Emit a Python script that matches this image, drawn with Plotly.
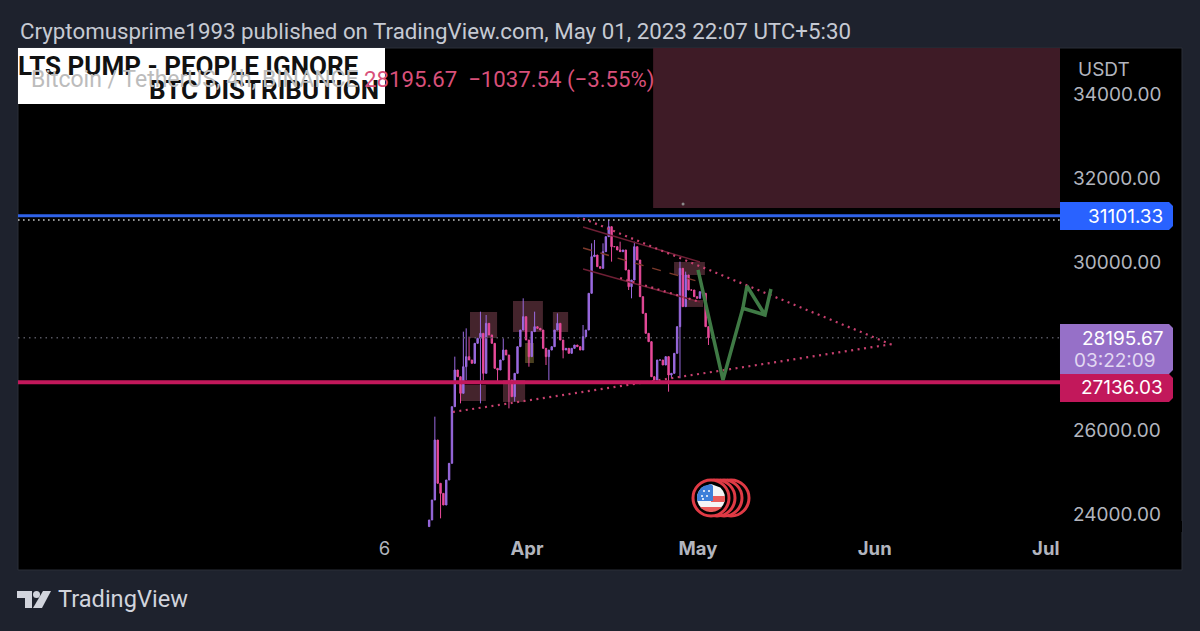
import math
import pandas as pd
import plotly.graph_objects as go

W, H = 1200, 631
BG = "#1e222d"
PANEL = "#000000"

# ---------- data ----------
bar_start = "2023-03-14 20:00"
closes = [23857, 24333, 25761, 24730, 24491, 24214, 24809, 25206, 26555, 27428,
          27269, 26873, 27507, 27746, 27666, 27587, 28063, 28182, 28301, 27349,
          28539, 28262, 28063, 27468, 27428, 27666, 27904, 27785, 27190, 26793,
          27349, 27984, 28380, 28698, 28142, 27746, 28341, 28460, 28420, 28380,
          27944, 27746, 27904, 27984, 28380, 28539, 28142, 27904, 27944, 27825,
          27944, 28023, 27984, 27904, 28222, 28380, 29254, 30127, 30166, 29889,
          29849, 30246, 30603, 30841, 30365, 30365, 30286, 30246, 30286, 29809,
          29412, 29571, 30365, 30047, 29174, 28777, 28301, 28103, 27269, 27190,
          27666, 27666, 27547, 27746, 27309, 27349, 27825, 28460, 29849, 28936,
          29690, 29333, 29333, 29174, 29135, 29293, 29254, 28460, 28195.67]
first_open = 23700
high_wicks = {3: 26317, 10: 27746, 13: 28341, 14: 28420, 15: 28222, 19: 28817, 21: 28738,
              27: 28182, 34: 29135, 38: 28817, 46: 28777, 55: 28500, 58: 30444, 59: 30524,
              62: 30444, 64: 31000, 68: 30484, 73: 30484, 79: 27984, 89: 30008, 91: 29770}
low_wicks = {5: 23896, 12: 26634, 14: 27190, 19: 26634, 20: 27190, 25: 27150, 29: 26515,
             31: 26674, 36: 27507, 42: 27547, 43: 27190, 48: 27706, 65: 30008, 71: 29333,
             72: 29135, 85: 26912, 86: 27230, 89: 27230, 99: 28024}

y_ticks = [24000, 26000, 30000, 32000, 34000]
x_tick_dates = ["2023-03-07", "2023-04-01", "2023-05-01", "2023-06-01", "2023-07-01"]
x_tick_text = ["6", "<b>Apr</b>", "<b>May</b>", "<b>Jun</b>", "<b>Jul</b>"]
x_range = ["2023-01-01 17:00", "2023-07-03 12:00"]
y_range = [23571, 35095]

level_blue = 31101.33
level_white = 31000
level_last = 28195.67
level_red = 27136.03

upper_x = ["2023-04-09 18:30", "2023-06-03 17:00"]
upper_y = [31095, 28048]
lower_x = ["2023-03-19 00:00", "2023-06-04 05:00"]
lower_y = [26428, 28048]
chan_x = ["2023-04-10 20:00", "2023-05-01 08:00"]
chan1_y = [30833, 30000]
chan2_y = [30333, 29524]
chan3_y = [29833, 29048]
chan3_dot_x = ["2023-04-17 08:00", "2023-05-01 08:00"]
chan3_dot_y = [29619, 29048]
green_x = ["2023-05-01 00:00", "2023-05-05 09:00", "2023-05-08 21:00", "2023-05-09 14:00",
           "2023-05-12 18:00", "2023-05-08 17:00", "2023-05-12 18:00", "2023-05-13 19:00"]
green_y = [29810, 27190, 28905, 29429, 28738, 28905, 28738, 29357]

boxes = [
    ("2023-03-22 00:00", "2023-03-26 18:00", 28190, 28810, "#44242c"),
    ("2023-03-29 13:00", "2023-04-03 19:00", 28333, 29071, "#44242c"),
    ("2023-04-05 13:00", "2023-04-08 05:00", 28333, 28810, "#44242c"),
    ("2023-03-20 06:00", "2023-03-24 19:00", 26690, 27071, "#44242c"),
    ("2023-03-27 19:00", "2023-03-31 16:00", 26667, 27190, "#44242c"),
    ("2023-03-31 16:00", "2023-04-02 05:00", 27595, 28071, "#4a4020"),
    ("2023-04-26 19:00", "2023-05-02 05:00", 29690, 30000, "#44242c"),
    ("2023-04-28 17:00", "2023-05-01 21:00", 28929, 29095, "#44242c"),
]
zone = ("2023-04-23 03:00", x_range[1], 31286, y_range[1])
dot_x, dot_y = ["2023-04-28 09:00"], [31381]

title_text = "Cryptomusprime1993 published on TradingView.com, May 01, 2023 22:07 UTC+5:30"
legend_text = "Bitcoin / TetherUS, 4h, BINANCE"
legend_vals = "28195.67  −1037.54 (−3.55%)"

# ---------- derived ----------
times = pd.date_range(bar_start, periods=len(closes), freq="12h")
opens = [first_open] + closes[:-1]
highs = [high_wicks.get(i + 1, max(o, c)) for i, (o, c) in enumerate(zip(opens, closes))]
lows = [low_wicks.get(i + 1, min(o, c)) for i, (o, c) in enumerate(zip(opens, closes))]

# ---------- page-pixel helpers (layout furniture only) ----------
def px(x):
    return x / W
def py(y):
    return 1 - y / H
def prect(x0, y0, x1, y1, fill, layer="above", line=None):
    return dict(type="rect", xref="paper", yref="paper", x0=px(x0), x1=px(x1), y0=py(y0), y1=py(y1),
                fillcolor=fill, layer=layer, line=dict(color=line or fill, width=1 if line else 0))
def ppath(points, fill, close=True):
    d = "M " + " L ".join(f"{px(a):.5f},{py(b):.5f}" for a, b in points) + (" Z" if close else "")
    return dict(type="path", xref="paper", yref="paper", path=d, fillcolor=fill, layer="above", line=dict(width=0))
def tag(y0, y1, fill):
    r = 4
    pts = [(1060, y0), (1173 - r, y0), (1173, y0 + r), (1173, y1 - r), (1173 - r, y1), (1060, y1)]
    return ppath(pts, fill)
def pcircle(cx, cy, r, fill, line=None, lw=0):
    return dict(type="circle", xref="paper", yref="paper", x0=px(cx - r), x1=px(cx + r), y0=py(cy + r), y1=py(cy - r),
                fillcolor=fill, layer="above", line=dict(color=line or fill, width=lw))
def chord(cx, cy, r, ya, yb, xmin=None, xmax=None):
    pts = []
    n = 8
    for i in range(n + 1):
        yy = ya + (yb - ya) * i / n
        hw = math.sqrt(max(r * r - (yy - cy) ** 2, 0))
        xx = cx + hw
        if xmax is not None:
            xx = min(xx, xmax)
        pts.append((xx, yy))
    for i in range(n, -1, -1):
        yy = ya + (yb - ya) * i / n
        hw = math.sqrt(max(r * r - (yy - cy) ** 2, 0))
        xx = cx - hw
        if xmin is not None:
            xx = max(xx, xmin)
        pts.append((xx, yy))
    return pts

PINK_DOT = dict(color="#c8406f", width=2.2, dash="2px,4.5px")

fig = go.Figure()
fig.add_trace(go.Scatter(x=x_range, y=[level_last, level_last], mode="lines",
                         line=dict(color="#55555f", width=1.5, dash="1.5px,4px"), hoverinfo="skip"))
fig.add_trace(go.Scatter(x=x_range, y=[level_white, level_white], mode="lines",
                         line=dict(color="#c4c4c4", width=1.6, dash="1.6px,3.4px"), hoverinfo="skip"))
for ys, col, dash in [(chan1_y, "#6e1f35", "solid"), (chan2_y, "#7d3a2c", "dash"), (chan3_y, "#6e1f35", "solid")]:
    fig.add_trace(go.Scatter(x=chan_x, y=ys, mode="lines", line=dict(color=col, width=1.4, dash=dash), hoverinfo="skip"))
fig.add_trace(go.Candlestick(x=times, open=opens, high=highs, low=lows, close=closes,
                             increasing=dict(line=dict(color="#9a6ae0", width=1), fillcolor="#9a6ae0"),
                             decreasing=dict(line=dict(color="#e84a9a", width=1), fillcolor="#e84a9a"),
                             whiskerwidth=0))
fig.add_trace(go.Scatter(x=upper_x, y=upper_y, mode="lines", line=PINK_DOT, hoverinfo="skip"))
fig.add_trace(go.Scatter(x=lower_x, y=lower_y, mode="lines", line=PINK_DOT, hoverinfo="skip"))
fig.add_trace(go.Scatter(x=chan3_dot_x, y=chan3_dot_y, mode="lines", line=PINK_DOT, hoverinfo="skip"))
fig.add_trace(go.Scatter(x=x_range, y=[level_blue, level_blue], mode="lines", line=dict(color="#2f62e8", width=3), hoverinfo="skip"))
fig.add_trace(go.Scatter(x=x_range, y=[level_red, level_red], mode="lines", line=dict(color="#c2185b", width=4), hoverinfo="skip"))
fig.add_trace(go.Scatter(x=green_x, y=green_y, mode="lines", line=dict(color="#3f7a45", width=3.5), hoverinfo="skip"))
fig.add_trace(go.Scatter(x=dot_x, y=dot_y, mode="markers", marker=dict(color="#8a8a8a", size=3), hoverinfo="skip"))

shapes = [prect(18, 48, 1182, 570, PANEL, "below", "#2a2e39")]
shapes.append(dict(type="rect", xref="x", yref="y", x0=zone[0], x1=zone[1], y0=zone[2], y1=zone[3],
                   fillcolor="#3e1b26", layer="below", line=dict(width=0)))
for b in boxes:
    shapes.append(dict(type="rect", xref="x", yref="y", x0=b[0], x1=b[1], y0=b[2], y1=b[3],
                       fillcolor=b[4], layer="below", line=dict(width=0)))
shapes += [prect(1060, 521, 1182, 532, PANEL), prect(18, 48, 385, 104, "#ffffff")]
shapes += [tag(202, 230, "#2962ff"), tag(324, 374, "#9670c8"), tag(374, 402, "#c2185b")]

# calendar-event badge
for cx in (731, 724, 717):
    shapes.append(pcircle(cx, 498, 18, "#000000", "#e03a45", 3))
shapes.append(pcircle(711, 498, 18, "#000000", "#e03a45", 3))
fc, fy, fr = 711, 498, 14
shapes.append(ppath(chord(fc, fy, fr, fy - 14, fy + 14), "#f4f4f6"))
shapes.append(ppath(chord(fc, fy, fr, fy - 2, fy + 4, xmin=fc), "#ea5a5a"))
shapes.append(ppath(chord(fc, fy, fr, fy + 9, fy + 14), "#ea5a5a"))
shapes.append(ppath(chord(fc, fy, fr, fy - 14, fy + 3, xmax=fc + 2), "#3d7fd9"))
for dx, dy in [(-7, -7), (-2, -7), (-9, -2), (-4, -2), (-8, 1)]:
    shapes.append(pcircle(fc + dx, fy + dy, 1, "#ffffff"))

# TradingView logo
shapes.append(ppath([(17, 591), (32, 591), (32, 608), (25, 608), (25, 598), (17, 598)], "#d1d4dc"))
shapes.append(pcircle(36.5, 594.5, 3.5, "#d1d4dc"))
shapes.append(ppath([(43, 591), (51, 591), (42, 608), (33, 608)], "#d1d4dc"))

def note(x, y, text, size, color, anchor="left", family="Inter, Roboto, sans-serif"):
    return dict(xref="paper", yref="paper", x=px(x), y=py(y), text=text, showarrow=False, xanchor=anchor,
                yanchor="middle", font=dict(size=size, color=color, family=family), align=anchor)

annotations = [
    note(18, 31, title_text, 22.3, "#c6cad3", family="Roboto, sans-serif"),
    note(16, 66, "<b>LTS PUMP - PEOPLE IGNORE</b>", 26, "#111111", family="Roboto, sans-serif"),
    note(381, 90, "<b>BTC DISTRIBUTION</b>", 26, "#111111", "right", family="Roboto, sans-serif"),
    note(29, 79, legend_text, 23, "#bcbcbc", family="Roboto, sans-serif"),
    note(362, 79, legend_vals, 22.2, "#d8507a", family="Roboto, sans-serif"),
    note(1076, 70, "USDT", 19, "#b2b5be"),
    note(1165, 216, f"{level_blue:.2f}", 19, "#ffffff", "right"),
    note(1165, 338, f"{level_last:.2f}", 19, "#ffffff", "right"),
    note(1158, 360, "03:22:09", 19, "#e2d8f2", "right"),
    note(1165, 388, f"{level_red:.2f}", 19, "#ffffff", "right"),
    note(56, 599, "TradingView", 23.6, "#d1d4dc", family="Roboto, sans-serif"),
]

fig.update_layout(
    width=W, height=H, margin=dict(l=0, r=0, t=0, b=0), autosize=False,
    paper_bgcolor=BG, plot_bgcolor="rgba(0,0,0,0)", showlegend=False, shapes=shapes, annotations=annotations,
    xaxis=dict(domain=[px(18), px(1060)], range=x_range, type="date", rangeslider=dict(visible=False),
               tickmode="array", tickvals=x_tick_dates, ticktext=x_tick_text, showgrid=False, zeroline=False,
               showline=False, ticks="", tickfont=dict(size=18.5, color="#b2b5be", family="Inter, Roboto, sans-serif"),
               tickangle=0, ticklabeloverflow="allow", ticklabelstandoff=3),
    yaxis=dict(domain=[py(532), py(48)], range=y_range, side="right", tickmode="array", tickvals=y_ticks,
               tickformat=".2f", showgrid=False, zeroline=False, showline=False, ticks="",
               tickfont=dict(size=19, color="#b2b5be", family="Inter, Roboto, sans-serif"), ticklabelstandoff=12),
)
fig.write_html("out.html", post_script="document.body.style.margin='0';document.body.style.overflow='hidden';",
               config=dict(displayModeBar=False))
